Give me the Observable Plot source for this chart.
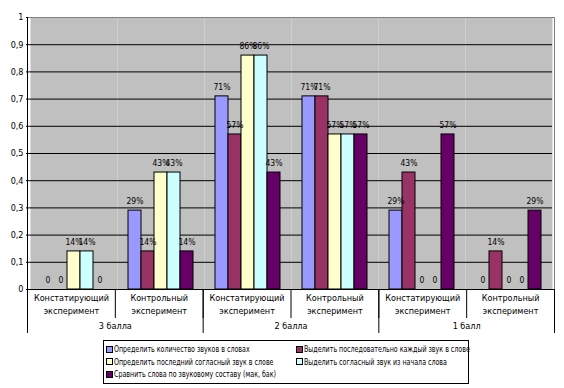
<!DOCTYPE html>
<html>
<head>
<meta charset="utf-8">
<script src="https://cdn.jsdelivr.net/npm/d3@7"></script>
<script src="https://cdn.jsdelivr.net/npm/@observablehq/plot@0.6"></script>
<style>
  html, body { margin: 0; padding: 0; background: #fff; }
  #wrap { position: relative; width: 564px; height: 388px; font-family: "DejaVu Sans Condensed", "Liberation Sans", sans-serif; }
  #wrap svg { position: absolute; left: 0; top: 0; }
  #legend { position: absolute; left: 103px; top: 340px; width: 366px; height: 44px; box-sizing: border-box; border: 1px solid #000; background: #fff;
    display: grid; grid-template-columns: 190px auto; grid-auto-rows: 12.5px; padding: 2px 0 0 2px; font-size: 9px; color: #000; }
  .item { display: flex; align-items: center; white-space: nowrap; }
  .sw { width: 5px; height: 5px; border: 1px solid #000; margin-right: 1px; flex: none; }
  .txt { display: inline-block; transform: scaleX(0.78); transform-origin: left center; }
</style>
</head>
<body>
<div id="wrap"></div>
<script>
// ---- data ----
const scoreLabels = ["3 балла", "2 балла", "1 балл"];
const stageLabels = ["Констатирующий\nэксперимент", "Контрольный\nэксперимент"];
const seriesNames = [
  "Определить количество звуков в словах",
  "Выделить последовательно каждый звук в слове",
  "Определить последний согласный звук в слове",
  "Выделить согласный звук из начала слова",
  "Сравнить слова по звуковому составу (мак, бак)"
];
const seriesColors = ["#9999FF", "#993366", "#FFFFCC", "#CCFFFF", "#660066"];
// values per series, in group order: 3б-конст, 3б-контр, 2б-конст, 2б-контр, 1б-конст, 1б-контр
const s1 = [0, 0.29, 0.71, 0.71, 0.29, 0];
const s2 = [0, 0.14, 0.57, 0.71, 0.43, 0.14];
const s3 = [0.14, 0.43, 0.86, 0.57, 0, 0];
const s4 = [0.14, 0.43, 0.86, 0.57, 0, 0];
const s5 = [0, 0.14, 0.43, 0.57, 0.57, 0.29];
const seriesValues = [s1, s2, s3, s4, s5];
const yTicks = [0, 0.1, 0.2, 0.3, 0.4, 0.5, 0.6, 0.7, 0.8, 0.9, 1];

// ---- build table ----
const nGroups = scoreLabels.length * stageLabels.length;
const groupIdx = d3.range(nGroups);
const data = [];
groupIdx.forEach(gi => seriesNames.forEach((s, j) => data.push({gi, series: s, value: seriesValues[j][gi]})));
const subLabels = groupIdx.map(gi => ({pos: gi + 0.5, text: stageLabels[gi % stageLabels.length]}));
const topLabels = scoreLabels.map((t, i) => ({pos: (i + 0.5) * stageLabels.length, text: t}));
const subBounds = d3.range(nGroups + 1);
const topBounds = d3.range(scoreLabels.length + 1).map(i => i * stageLabels.length);

const fmtVal = d => d.value === 0 ? "0" : Math.round(d.value * 100) + "%";
const fmtTick = t => String(t).replace(".", ",");

const W = 564, H = 338, ML = 27, MR = 10, MT = 17, MB = 49;
const font = '"DejaVu Sans Condensed", "Liberation Sans", sans-serif';

const main = Plot.plot({
  width: W, height: H, marginLeft: ML, marginRight: MR, marginTop: MT, marginBottom: MB,
  style: {fontFamily: font, fontSize: "9px", background: "transparent", color: "#000", overflow: "visible"},
  fx: {domain: groupIdx, padding: 0, axis: null},
  x: {domain: seriesNames, paddingInner: 0, paddingOuter: 0.75, axis: null},
  y: {domain: [0, 1], axis: null},
  color: {domain: seriesNames, range: seriesColors},
  marks: [
    Plot.frame({fill: "#c0c0c0"}),
    Plot.gridY(yTicks.filter(t => t > 0 && t < 1), {stroke: "#000", strokeOpacity: 1}),
    Plot.axisY(yTicks, {tickSize: 4, tickPadding: 3, tickFormat: fmtTick, label: null, stroke: "#000", fontSize: 9}),
    Plot.barY(data, {fx: "gi", x: "series", y: "value", fill: "series", stroke: "#000", strokeWidth: 1}),
    Plot.text(data, {fx: "gi", x: "series", y: "value", text: fmtVal, dy: -9, fill: "#000", fontSize: 8.5})
  ]
});

const overlay = Plot.plot({
  width: W, height: H, marginLeft: ML, marginRight: MR, marginTop: MT, marginBottom: MB,
  style: {fontFamily: font, fontSize: "9px", background: "transparent", color: "#000", overflow: "visible"},
  x: {domain: [0, nGroups], axis: null},
  y: {domain: [0, 1], axis: null},
  marks: [
    Plot.ruleY([1], {stroke: "#808080"}),
    Plot.ruleX([nGroups], {x: d => d, y1: 0, y2: 1, stroke: "#808080"}),
    Plot.ruleY([0], {stroke: "#000"}),
    Plot.ruleX(subBounds, {x: d => d, y1: 0, y2: 0, insetBottom: -29, stroke: "#000"}),
    Plot.ruleX(topBounds, {x: d => d, y1: 0, y2: 0, insetBottom: -44, stroke: "#000"}),
    Plot.ruleX([0], {x: d => d, y1: 0, y2: 1, stroke: "#000"}),
    Plot.text(subLabels, {x: "pos", y: 0, text: "text", lineAnchor: "top", dy: 3, lineHeight: 1.4, fill: "#000"}),
    Plot.text(topLabels, {x: "pos", y: 0, text: "text", lineAnchor: "top", dy: 33, fill: "#000"})
  ]
});

const wrap = document.getElementById("wrap");
wrap.appendChild(main);
wrap.appendChild(overlay);

const legend = document.createElement("div");
legend.id = "legend";
seriesNames.forEach((s, j) => {
  const it = document.createElement("div");
  it.className = "item";
  const sw = document.createElement("span");
  sw.className = "sw";
  sw.style.background = seriesColors[j];
  const tx = document.createElement("span");
  tx.className = "txt";
  tx.textContent = s;
  it.appendChild(sw);
  it.appendChild(tx);
  legend.appendChild(it);
});
wrap.appendChild(legend);
</script>
</body>
</html>
